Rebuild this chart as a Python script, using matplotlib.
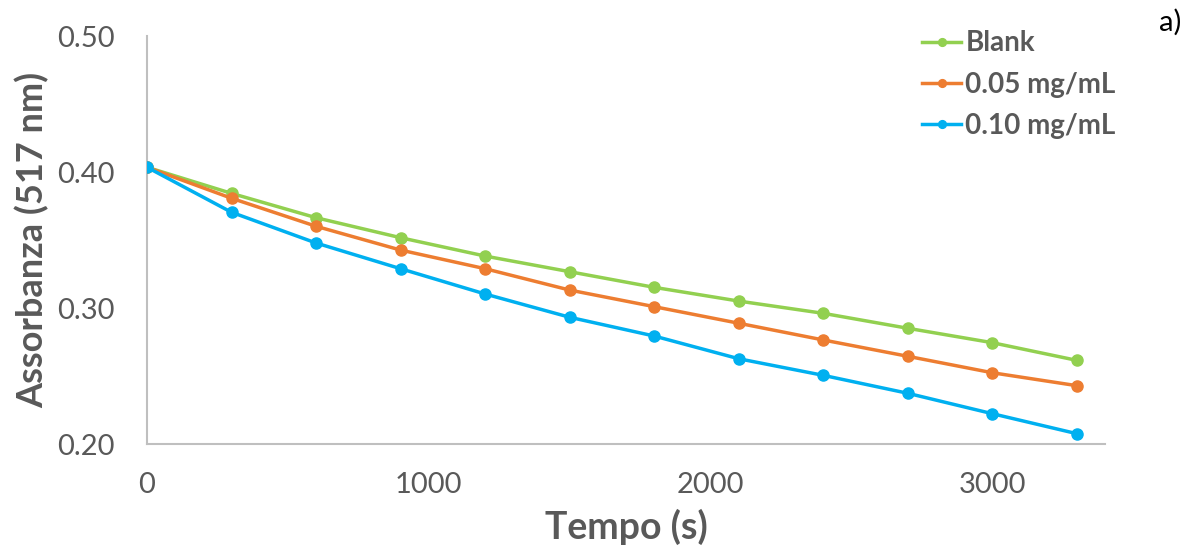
import matplotlib.pyplot as plt

# absorbance at 517 nm over time, one reading every 300 s
tempo = [0, 300, 600, 900, 1200, 1500, 1800, 2100, 2400, 2700, 3000, 3300]
blank = [0.4035, 0.3843, 0.3664, 0.3517, 0.3382, 0.3267, 0.3152, 0.3051, 0.2961, 0.2851, 0.2745, 0.2615]
conc_005 = [0.4035, 0.3807, 0.3601, 0.3426, 0.3289, 0.3132, 0.3010, 0.2888, 0.2765, 0.2645, 0.2524, 0.2429]
conc_010 = [0.4035, 0.3704, 0.3478, 0.3289, 0.3103, 0.2932, 0.2794, 0.2627, 0.2505, 0.2373, 0.2223, 0.2076]

series = [("Blank", blank, "#92D050"),
          ("0.05 mg/mL", conc_005, "#ED7D31"),
          ("0.10 mg/mL", conc_010, "#00B0F0")]

plt.rcParams['font.family'] = ['Lato', 'DejaVu Sans']
grigio = "#595959"

fig = plt.figure(figsize=(11.97, 5.6), dpi=100)
ax = fig.add_axes([0.1228, 0.2071, 0.8004, 0.7286])

for nome, valori, colore in series:
    ax.plot(tempo, valori, color=colore, lw=2.5, marker='o', ms=8,
            label=nome, zorder=3)

ax.set_xlim(0, 3400)
ax.set_ylim(0.2, 0.5)
ax.set_xticks([0, 1000, 2000, 3000])
ax.set_yticks([0.2, 0.3, 0.4, 0.5])
ax.set_yticklabels(["0.20", "0.30", "0.40", "0.50"])

for lato in ["top", "right"]:
    ax.spines[lato].set_visible(False)
for lato in ["left", "bottom"]:
    ax.spines[lato].set_color("#BFBFBF")
    ax.spines[lato].set_linewidth(1.5)

ax.tick_params(length=0, labelsize=21, labelcolor=grigio)
ax.tick_params(axis='x', pad=20)
ax.tick_params(axis='y', pad=23)

ax.set_xlabel("Tempo (s)", fontsize=27, fontweight='bold', color=grigio, labelpad=8)
ax.set_ylabel("Assorbanza (517 nm)", fontsize=26, fontweight='bold', color=grigio, labelpad=6)

leg = ax.legend(loc='upper right', bbox_to_anchor=(1.037, 1.075), frameon=False,
                fontsize=20, handlelength=1.4, handletextpad=0.15,
                labelspacing=0.55, markerscale=0.7)
for t in leg.get_texts():
    t.set_fontweight('bold')
    t.set_color(grigio)

fig.text(0.968, 0.96, "a)", fontsize=21, color="black", ha='left', va='center')

fig.savefig("out.png", dpi=100)
